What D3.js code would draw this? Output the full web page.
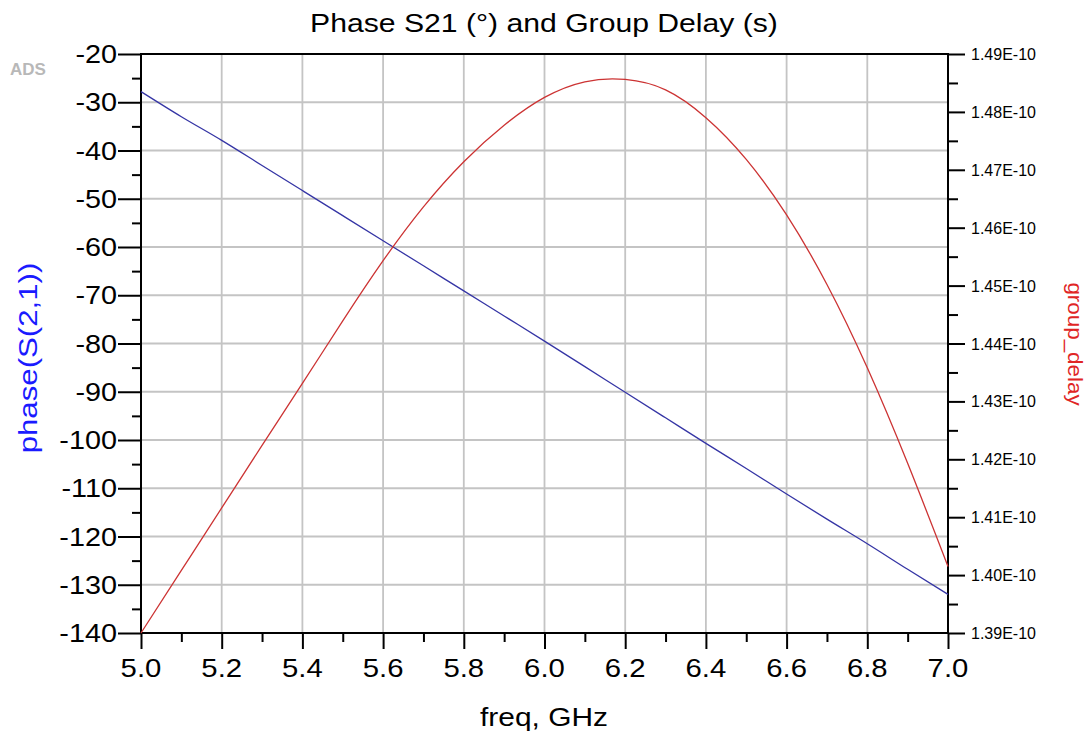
<!DOCTYPE html>
<html>
<head>
<meta charset="utf-8">
<script src="https://cdn.jsdelivr.net/npm/d3@7"></script>
<style>
  body { margin: 0; background: #fff; }
  svg { display: block; font-family: "Liberation Sans", Arial, sans-serif; }
</style>
</head>
<body>
<svg width="1088" height="733"></svg>
<script>
// frequency points (GHz)
var freq = [5.0, 5.1, 5.2, 5.3, 5.4, 5.5, 5.6, 5.7, 5.8, 5.9, 6.0, 6.1, 6.2, 6.3, 6.4, 6.5, 6.6, 6.7, 6.8, 6.9, 7.0];
// phase(S(2,1)) in degrees
var phase = [-27.8, -33.0, -37.9, -43.1, -48.3, -53.5, -58.7, -63.9, -69.1, -74.3, -79.5, -84.8, -90.1, -95.4, -100.7, -105.9, -111.2, -116.4, -121.5, -126.8, -132.0];
// group_delay in units of 1E-10 s
var delay = [1.3900, 1.4008, 1.4116, 1.4224, 1.4331, 1.4439, 1.4543, 1.4636, 1.4714, 1.4777, 1.4825, 1.4852, 1.4856, 1.4838, 1.4790, 1.4718, 1.4622, 1.4502, 1.4358, 1.4193, 1.4015];

var xTicks = [5.0, 5.2, 5.4, 5.6, 5.8, 6.0, 6.2, 6.4, 6.6, 6.8, 7.0];
var leftTicks = [-20, -30, -40, -50, -60, -70, -80, -90, -100, -110, -120, -130, -140];
var rightTicks = [1.49, 1.48, 1.47, 1.46, 1.45, 1.44, 1.43, 1.42, 1.41, 1.40, 1.39];

var plotL = 141, plotR = 948, plotT = 54, plotB = 633;

const svg = d3.select('svg');
svg.append('rect').attr('width', 1088).attr('height', 733).attr('fill', '#fff');

var x = d3.scaleLinear().domain([5, 7]).range([plotL, plotR]);
var yL = d3.scaleLinear().domain([-140, -20]).range([plotB, plotT]);
var yR = d3.scaleLinear().domain([1.39, 1.49]).range([plotB, plotT]);

// stretched text helper (the original fonts are a bit wider than Arial)
function label(g, txt, px, py, size, anchor, sx, rot, color) {
  return g.append('text')
    .attr('transform', 'translate(' + px + ',' + py + ')' + (rot ? ' rotate(' + rot + ')' : '') + ' scale(' + sx + ',1)')
    .attr('text-anchor', anchor)
    .attr('font-size', size)
    .attr('fill', color || '#000')
    .text(txt);
}

// grid
const grid = svg.append('g').attr('stroke', '#c4c4c4').attr('stroke-width', 1.8);
grid.selectAll('line.v').data(xTicks).enter().append('line')
  .attr('x1', d => x(d)).attr('x2', d => x(d)).attr('y1', plotT).attr('y2', plotB);
grid.selectAll('line.h').data(leftTicks).enter().append('line')
  .attr('x1', plotL).attr('x2', plotR).attr('y1', d => yL(d)).attr('y2', d => yL(d));

// axes (ticks only, labels drawn separately)
var minorX = d3.range(5.1, 7.0, 0.2);
var minorL = d3.range(-135, -20, 10);
var minorR = d3.range(1.395, 1.49, 0.01);

function styleAxis(g) {
  g.select('.domain').remove();
  g.selectAll('line').attr('stroke', '#000').attr('stroke-width', 2);
}

svg.append('g').attr('transform', 'translate(0,' + plotB + ')')
  .call(d3.axisBottom(x).tickValues(xTicks).tickSize(16).tickFormat('')).call(styleAxis);
svg.append('g').attr('transform', 'translate(0,' + plotB + ')')
  .call(d3.axisBottom(x).tickValues(minorX).tickSize(9).tickFormat('')).call(styleAxis);
svg.append('g').attr('transform', 'translate(' + plotL + ',0)')
  .call(d3.axisLeft(yL).tickValues(leftTicks).tickSize(23).tickFormat('')).call(styleAxis);
svg.append('g').attr('transform', 'translate(' + plotL + ',0)')
  .call(d3.axisLeft(yL).tickValues(minorL).tickSize(9).tickFormat('')).call(styleAxis);
svg.append('g').attr('transform', 'translate(' + plotR + ',0)')
  .call(d3.axisRight(yR).tickValues(rightTicks).tickSize(17).tickFormat('')).call(styleAxis);
svg.append('g').attr('transform', 'translate(' + plotR + ',0)')
  .call(d3.axisRight(yR).tickValues(minorR).tickSize(10).tickFormat('')).call(styleAxis);

// frame
svg.append('rect').attr('x', plotL).attr('y', plotT)
  .attr('width', plotR - plotL).attr('height', plotB - plotT)
  .attr('fill', 'none').attr('stroke', '#000').attr('stroke-width', 2);

// data lines
var data = freq.map(function(f, i) { return { f: f, p: phase[i], d: delay[i] }; });
svg.append('path').datum(data)
  .attr('fill', 'none').attr('stroke', '#3535a5').attr('stroke-width', 1.3)
  .attr('d', d3.line().x(d => x(d.f)).y(d => yL(d.p)).curve(d3.curveMonotoneX));
svg.append('path').datum(data)
  .attr('fill', 'none').attr('stroke', '#cc3333').attr('stroke-width', 1.3)
  .attr('d', d3.line().x(d => x(d.f)).y(d => yR(d.d)).curve(d3.curveNatural));

// tick labels
const labels = svg.append('g');
xTicks.forEach(function(t) { label(labels, t.toFixed(1), x(t), 677, 25.5, 'middle', 1.15); });
leftTicks.forEach(function(t) { label(labels, t, 117, yL(t) + 9, 25.5, 'end', 1.13); });
rightTicks.forEach(function(t) { label(labels, t.toFixed(2) + 'E-10', 971, yR(t) + 6, 16, 'start', 1.0); });

// titles
label(svg, 'Phase S21 (°) and Group Delay (s)', 544, 32, 26, 'middle', 1.16);
label(svg, 'freq, GHz', 544, 726, 26, 'middle', 1.15);
label(svg, 'phase(S(2,1))', 37, 358, 26, 'middle', 1.2, -90, '#1a1aff');
label(svg, 'group_delay', 1068, 344, 20, 'middle', 1.12, 90, '#e02525');
svg.append('text').attr('x', 10).attr('y', 75).attr('font-size', 17).attr('font-weight', 'bold')
  .attr('fill', '#b8b8b8').text('ADS');
</script>
</body>
</html>
